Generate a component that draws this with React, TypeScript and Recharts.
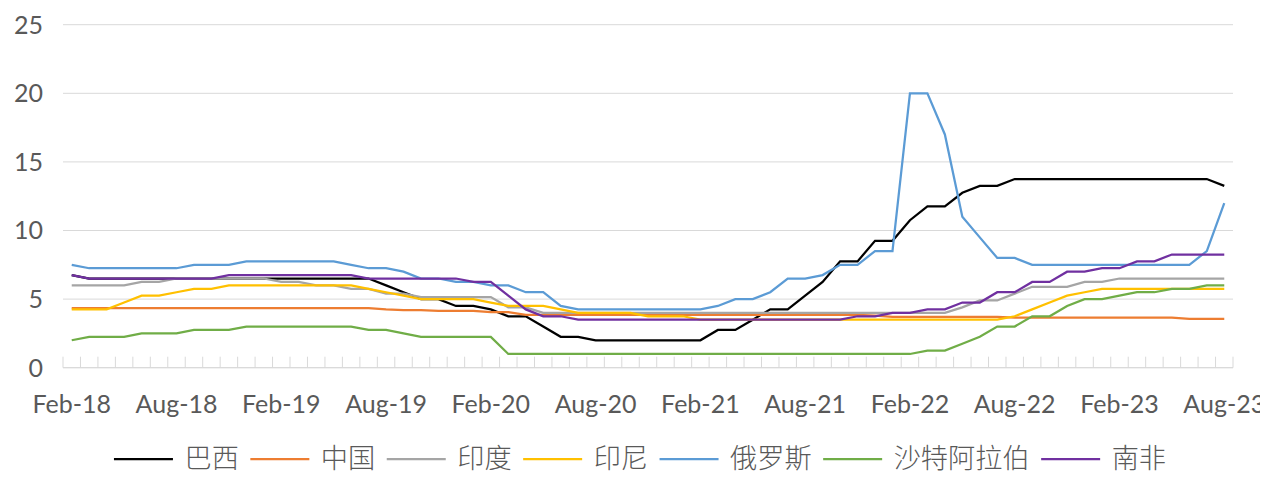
import React from 'react';
import { LineChart, Line, XAxis, YAxis, CartesianGrid, Customized } from 'recharts';

const months = [
  'Feb-18','Mar-18','Apr-18','May-18','Jun-18','Jul-18','Aug-18','Sep-18','Oct-18','Nov-18','Dec-18',
  'Jan-19','Feb-19','Mar-19','Apr-19','May-19','Jun-19','Jul-19','Aug-19','Sep-19','Oct-19','Nov-19','Dec-19',
  'Jan-20','Feb-20','Mar-20','Apr-20','May-20','Jun-20','Jul-20','Aug-20','Sep-20','Oct-20','Nov-20','Dec-20',
  'Jan-21','Feb-21','Mar-21','Apr-21','May-21','Jun-21','Jul-21','Aug-21','Sep-21','Oct-21','Nov-21','Dec-21',
  'Jan-22','Feb-22','Mar-22','Apr-22','May-22','Jun-22','Jul-22','Aug-22','Sep-22','Oct-22','Nov-22','Dec-22',
  'Jan-23','Feb-23','Mar-23','Apr-23','May-23','Jun-23','Jul-23','Aug-23',
];

const brazil = [
  6.75, 6.5, 6.5, 6.5, 6.5, 6.5, 6.5, 6.5, 6.5, 6.5, 6.5,
  6.5, 6.5, 6.5, 6.5, 6.5, 6.5, 6.5, 6.0, 5.5, 5.0, 5.0, 4.5,
  4.5, 4.25, 3.75, 3.75, 3.0, 2.25, 2.25, 2.0, 2.0, 2.0, 2.0, 2.0,
  2.0, 2.0, 2.75, 2.75, 3.5, 4.25, 4.25, 5.25, 6.25, 7.75, 7.75, 9.25,
  9.25, 10.75, 11.75, 11.75, 12.75, 13.25, 13.25, 13.75, 13.75, 13.75, 13.75, 13.75,
  13.75, 13.75, 13.75, 13.75, 13.75, 13.75, 13.75, 13.25,
];

const china = [
  4.35, 4.35, 4.35, 4.35, 4.35, 4.35, 4.35, 4.35, 4.35, 4.35, 4.35,
  4.35, 4.35, 4.35, 4.35, 4.35, 4.35, 4.35, 4.25, 4.2, 4.2, 4.15, 4.15,
  4.15, 4.05, 4.05, 3.85, 3.85, 3.85, 3.85, 3.85, 3.85, 3.85, 3.85, 3.85,
  3.85, 3.85, 3.85, 3.85, 3.85, 3.85, 3.85, 3.85, 3.85, 3.85, 3.85, 3.8,
  3.7, 3.7, 3.7, 3.7, 3.7, 3.7, 3.7, 3.65, 3.65, 3.65, 3.65, 3.65,
  3.65, 3.65, 3.65, 3.65, 3.65, 3.55, 3.55, 3.55,
];

const india = [
  6.0, 6.0, 6.0, 6.0, 6.25, 6.25, 6.5, 6.5, 6.5, 6.5, 6.5,
  6.5, 6.25, 6.25, 6.0, 6.0, 5.75, 5.75, 5.4, 5.4, 5.15, 5.15, 5.15,
  5.15, 5.15, 4.4, 4.4, 4.0, 4.0, 4.0, 4.0, 4.0, 4.0, 4.0, 4.0,
  4.0, 4.0, 4.0, 4.0, 4.0, 4.0, 4.0, 4.0, 4.0, 4.0, 4.0, 4.0,
  4.0, 4.0, 4.0, 4.0, 4.4, 4.9, 4.9, 5.4, 5.9, 5.9, 5.9, 6.25,
  6.25, 6.5, 6.5, 6.5, 6.5, 6.5, 6.5, 6.5,
];

const indonesia = [
  4.25, 4.25, 4.25, 4.75, 5.25, 5.25, 5.5, 5.75, 5.75, 6.0, 6.0,
  6.0, 6.0, 6.0, 6.0, 6.0, 6.0, 5.75, 5.5, 5.25, 5.0, 5.0, 5.0,
  5.0, 4.75, 4.5, 4.5, 4.5, 4.25, 4.0, 4.0, 4.0, 4.0, 3.75, 3.75,
  3.75, 3.5, 3.5, 3.5, 3.5, 3.5, 3.5, 3.5, 3.5, 3.5, 3.5, 3.5,
  3.5, 3.5, 3.5, 3.5, 3.5, 3.5, 3.5, 3.75, 4.25, 4.75, 5.25, 5.5,
  5.75, 5.75, 5.75, 5.75, 5.75, 5.75, 5.75, 5.75,
];

const russia = [
  7.5, 7.25, 7.25, 7.25, 7.25, 7.25, 7.25, 7.5, 7.5, 7.5, 7.75,
  7.75, 7.75, 7.75, 7.75, 7.75, 7.5, 7.25, 7.25, 7.0, 6.5, 6.5, 6.25,
  6.25, 6.0, 6.0, 5.5, 5.5, 4.5, 4.25, 4.25, 4.25, 4.25, 4.25, 4.25,
  4.25, 4.25, 4.5, 5.0, 5.0, 5.5, 6.5, 6.5, 6.75, 7.5, 7.5, 8.5,
  8.5, 20, 20, 17, 11, 9.5, 8.0, 8.0, 7.5, 7.5, 7.5, 7.5,
  7.5, 7.5, 7.5, 7.5, 7.5, 7.5, 8.5, 12,
];

const saudi = [
  2.0, 2.25, 2.25, 2.25, 2.5, 2.5, 2.5, 2.75, 2.75, 2.75, 3.0,
  3.0, 3.0, 3.0, 3.0, 3.0, 3.0, 2.75, 2.75, 2.5, 2.25, 2.25, 2.25,
  2.25, 2.25, 1.0, 1.0, 1.0, 1.0, 1.0, 1.0, 1.0, 1.0, 1.0, 1.0,
  1.0, 1.0, 1.0, 1.0, 1.0, 1.0, 1.0, 1.0, 1.0, 1.0, 1.0, 1.0,
  1.0, 1.0, 1.25, 1.25, 1.75, 2.25, 3.0, 3.0, 3.75, 3.75, 4.5, 5.0,
  5.0, 5.25, 5.5, 5.5, 5.75, 5.75, 6.0, 6.0,
];

const southAfrica = [
  6.75, 6.5, 6.5, 6.5, 6.5, 6.5, 6.5, 6.5, 6.5, 6.75, 6.75,
  6.75, 6.75, 6.75, 6.75, 6.75, 6.75, 6.5, 6.5, 6.5, 6.5, 6.5, 6.5,
  6.25, 6.25, 5.25, 4.25, 3.75, 3.75, 3.5, 3.5, 3.5, 3.5, 3.5, 3.5,
  3.5, 3.5, 3.5, 3.5, 3.5, 3.5, 3.5, 3.5, 3.5, 3.5, 3.75, 3.75,
  4.0, 4.0, 4.25, 4.25, 4.75, 4.75, 5.5, 5.5, 6.25, 6.25, 7.0, 7.0,
  7.25, 7.25, 7.75, 7.75, 8.25, 8.25, 8.25, 8.25,
];

const yTicks = [0, 5, 10, 15, 20, 25];

const series = [
  { key: 'brazil', name: '巴西', color: '#000000', values: brazil },
  { key: 'china', name: '中国', color: '#ED7D31', values: china },
  { key: 'india', name: '印度', color: '#A5A5A5', values: india },
  { key: 'indonesia', name: '印尼', color: '#FFC000', values: indonesia },
  { key: 'russia', name: '俄罗斯', color: '#5B9BD5', values: russia },
  { key: 'saudi', name: '沙特阿拉伯', color: '#70AD47', values: saudi },
  { key: 'southAfrica', name: '南非', color: '#7030A0', values: southAfrica },
];

const data = months.map((m, i) => {
  const row: Record<string, any> = { month: m };
  series.forEach((s) => {
    row[s.key] = s.values[i];
  });
  return row;
});

const W = 1268;
const H = 479;
const Y_AXIS_W = 63;
const MARGIN = { top: 24.7, right: 35, left: 0, bottom: 51.3 };
const PLOT_W = W - MARGIN.left - MARGIN.right - Y_AXIS_W;
const STEP = PLOT_W / months.length;
const TEXT = '#595959';
const GRID = '#d9d9d9';
const NUM_FONT = 'Lato, "Noto Sans", sans-serif';
const CJK_FONT = '"Noto Sans CJK SC", "Noto Sans", sans-serif';

const LEG_FONT = 27.2;
const LEG_LINE = 59;
const LEG_GAP = 11.5;
const LEG_CENTER_X = 640;
const LEG_LINE_Y = 459;
const LEG_BASELINE = 468;

const XTick = (props: any) => {
  const { x, y, payload } = props;
  const i = payload.index;
  const half = STEP / 2;
  return (
    <g>
      <line x1={x - half} x2={x - half} y1={y} y2={y - 11} stroke={GRID} strokeWidth={1} />
      {i === months.length - 1 && (
        <line x1={x + half} x2={x + half} y1={y} y2={y - 11} stroke={GRID} strokeWidth={1} />
      )}
      {i % 6 === 0 && (
        <text x={x} y={y + 45} textAnchor="middle" fill={TEXT} fontSize={25} fontFamily={NUM_FONT}>
          {payload.value}
        </text>
      )}
    </g>
  );
};

const SvgLegend = () => {
  const widths = series.map((s) => LEG_LINE + LEG_GAP + s.name.length * LEG_FONT);
  const total = widths.reduce((a, b) => a + b, 0) + LEG_GAP * (series.length - 1);
  let cx = LEG_CENTER_X - total / 2;
  return (
    <g className="svg-legend">
      {series.map((s, i) => {
        const x0 = cx;
        cx += widths[i] + LEG_GAP;
        return (
          <g key={s.key}>
            <line x1={x0} x2={x0 + LEG_LINE} y1={LEG_LINE_Y} y2={LEG_LINE_Y} stroke={s.color} strokeWidth={2.25} />
            <text
              x={x0 + LEG_LINE + LEG_GAP}
              y={LEG_BASELINE}
              fill={TEXT}
              fontSize={LEG_FONT}
              fontWeight={300}
              fontFamily={CJK_FONT}
            >
              {s.name}
            </text>
          </g>
        );
      })}
    </g>
  );
};

export default function App() {
  return (
    <div style={{ margin: -8, width: W, height: H }}>
      <LineChart width={W} height={H} data={data} margin={MARGIN}>
        <CartesianGrid vertical={false} stroke={GRID} strokeWidth={1} />
        <XAxis
          dataKey="month"
          interval={0}
          height={60}
          tickLine={false}
          tickSize={0}
          tickMargin={0}
          axisLine={{ stroke: GRID, strokeWidth: 1 }}
          padding={{ left: STEP / 2, right: STEP / 2 }}
          tick={<XTick />}
        />
        <YAxis
          width={Y_AXIS_W}
          domain={[0, 25]}
          ticks={yTicks}
          interval={0}
          axisLine={false}
          tickLine={false}
          tickSize={0}
          tickMargin={20}
          tick={{ fill: TEXT, fontSize: 25, fontFamily: NUM_FONT }}
        />
        {series.map((s) => (
          <Line
            key={s.key}
            type="linear"
            dataKey={s.key}
            name={s.name}
            stroke={s.color}
            strokeWidth={2.25}
            dot={false}
            activeDot={false}
            isAnimationActive={false}
          />
        ))}
        <Customized component={SvgLegend} />
      </LineChart>
    </div>
  );
}
